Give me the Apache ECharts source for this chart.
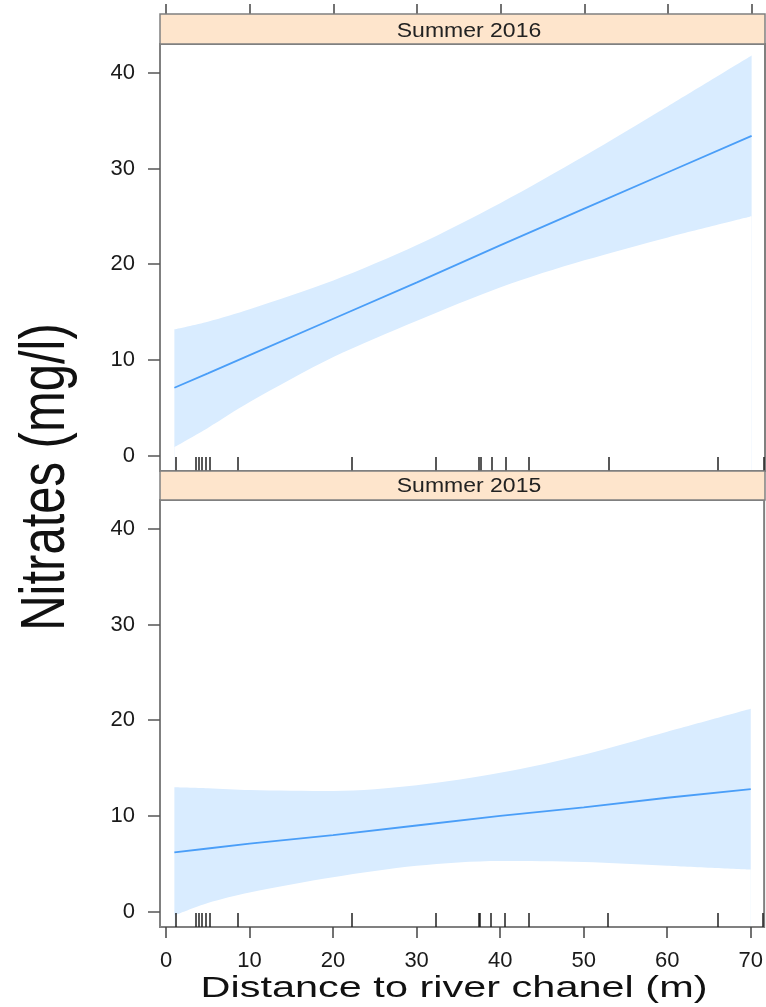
<!DOCTYPE html>
<html>
<head>
<meta charset="utf-8">
<title>Nitrates vs distance</title>
<script src="https://cdn.jsdelivr.net/npm/echarts@6.0.0/dist/echarts.min.js"></script>
<style>
  html, body { margin: 0; padding: 0; background: #fff; }
  #chart { width: 766px; height: 1007px; }
</style>
</head>
<body>
<div id="chart"></div>
<script>
// x positions where the effect was read
const xs = [1, 5, 10, 20, 30, 40, 50, 60, 70]
// Summer 2016 (top panel)
const fit2016 = [7.1, 8.6, 10.5, 14.3, 18.1, 22.0, 25.8, 29.6, 33.4]
const upper2016 = [13.2, 14.0, 15.3, 18.3, 22.0, 26.4, 31.3, 36.5, 41.8]
const lower2016 = [0.9, 2.9, 5.6, 10.3, 14.1, 17.6, 20.4, 22.8, 25.0]
// Summer 2015 (bottom panel)
const fit2015 = [6.2, 6.6, 7.1, 8.0, 9.0, 10.0, 10.9, 11.9, 12.8]
const upper2015 = [13.0, 12.9, 12.7, 12.6, 13.2, 14.5, 16.4, 18.8, 21.2]
const lower2015 = [-0.4, 0.9, 2.0, 3.6, 4.8, 5.3, 5.2, 4.8, 4.4]
// observed distances (rug)
const rugX = [1.2, 3.5, 3.9, 4.3, 4.7, 5.2, 8.6, 22.2, 32.3, 37.4, 37.6, 38.9, 40.6, 43.4, 52.9, 66.0, 71.4]
const xTicks = [0, 10, 20, 30, 40, 50, 60, 70]
const yTicks = [0, 10, 20, 30, 40]

const FONT = 'Liberation Sans, Arial, Helvetica, sans-serif'
const LINE = '#4a9ef8'
const BAND = '#d9ecff'
const BORDER = '#808080'
const X_MIN = -0.72
const X_MAX = 71.6
const PLOT_H = 427

function pairs(a) {
  return xs.map((x, i) => [x, a[i]])
}

// band = upper area filled blue, lower area filled white on top of it
function bandSeries(xIdx, yIdx, up, lo, fit) {
  return [
    {
      type: 'line', xAxisIndex: xIdx, yAxisIndex: yIdx, data: pairs(up), symbol: 'none', smooth: 0.3,
      lineStyle: { opacity: 0 }, areaStyle: { color: BAND, opacity: 1, origin: 'start' }, silent: true, z: 1
    },
    {
      type: 'line', xAxisIndex: xIdx, yAxisIndex: yIdx, data: pairs(lo), symbol: 'none', smooth: 0.3,
      lineStyle: { opacity: 0 }, areaStyle: { color: '#fff', opacity: 1, origin: 'start' }, silent: true, z: 2
    },
    {
      type: 'line', xAxisIndex: xIdx, yAxisIndex: yIdx, data: pairs(fit), symbol: 'none',
      lineStyle: { color: LINE, width: 1.8 }, z: 3
    }
  ]
}

function yAxis(grid) {
  return {
    type: 'value', gridIndex: grid, min: -1.6, max: 43, z: 10,
    axisLine: { show: false, onZero: false }, splitLine: { show: false },
    axisTick: { show: true, length: 12, customValues: yTicks, lineStyle: { color: '#555', width: 1.5 } },
    axisLabel: { customValues: yTicks, fontSize: 22, fontFamily: FONT, color: '#1a1a1a', margin: 25, padding: [0, 0, 7, 0], verticalAlign: 'middle', lineHeight: 22 }
  }
}

const chart = echarts.init(document.getElementById('chart'), null, { renderer: 'canvas' })
chart.setOption({
  animation: false,
  backgroundColor: '#fff',
  grid: [
    { left: 160, top: 44, width: 605, height: PLOT_H, show: true, borderColor: BORDER, borderWidth: 2, backgroundColor: 'transparent', z: 10 },
    { left: 160, top: 500, width: 605, height: PLOT_H, show: true, borderColor: BORDER, borderWidth: 2, backgroundColor: 'transparent', z: 10 }
  ],
  xAxis: [
    // 0: top panel, rug ticks pointing up from the bottom edge
    {
      type: 'value', gridIndex: 0, min: X_MIN, max: X_MAX, position: 'bottom', z: 10,
      axisLine: { show: false, onZero: false }, splitLine: { show: false }, axisLabel: { show: false },
      axisTick: { show: true, inside: true, length: 14, customValues: rugX, lineStyle: { color: '#222', width: 1.5 } }
    },
    // 1: top panel, ticks above the strip
    {
      type: 'value', gridIndex: 0, min: X_MIN, max: X_MAX, position: 'top', offset: 30, z: 10,
      axisLine: { show: false, onZero: false }, splitLine: { show: false }, axisLabel: { show: false },
      axisTick: { show: true, length: 10, customValues: xTicks, lineStyle: { color: '#444', width: 1.5 } }
    },
    // 2: bottom panel, labelled axis
    {
      type: 'value', gridIndex: 1, min: X_MIN, max: X_MAX, position: 'bottom', z: 10,
      axisLine: { show: false, onZero: false }, splitLine: { show: false },
      axisTick: { show: true, length: 11, customValues: xTicks, lineStyle: { color: '#444', width: 1.5 } },
      axisLabel: { customValues: xTicks, fontSize: 22, fontFamily: FONT, color: '#1a1a1a', margin: 23 }
    },
    // 3: bottom panel rug, a top axis moved down onto the bottom edge
    {
      type: 'value', gridIndex: 1, min: X_MIN, max: X_MAX, position: 'top', offset: -PLOT_H, z: 10,
      axisLine: { show: false, onZero: false }, splitLine: { show: false }, axisLabel: { show: false },
      axisTick: { show: true, inside: false, length: 14, customValues: rugX, lineStyle: { color: '#222', width: 1.5 } }
    }
  ],
  yAxis: [yAxis(0), yAxis(1)],
  series: [].concat(
    bandSeries(0, 0, upper2016, lower2016, fit2016),
    bandSeries(2, 1, upper2015, lower2015, fit2015)
  ),
  graphic: [
    // strips
    { type: 'rect', shape: { x: 160, y: 14, width: 605, height: 30 }, style: { fill: '#fee5cc', stroke: BORDER, lineWidth: 1.5 }, z: 20 },
    { type: 'rect', shape: { x: 160, y: 471, width: 605, height: 29 }, style: { fill: '#fee5cc', stroke: BORDER, lineWidth: 1.5 }, z: 20 },
    {
      type: 'text', x: 469, y: 31, scaleX: 1.15, z: 21,
      style: { text: 'Summer 2016', fontSize: 20, fontFamily: FONT, fill: '#222', align: 'center', verticalAlign: 'middle' }
    },
    {
      type: 'text', x: 469, y: 486, scaleX: 1.15, z: 21,
      style: { text: 'Summer 2015', fontSize: 20, fontFamily: FONT, fill: '#222', align: 'center', verticalAlign: 'middle' }
    },
    // axis titles
    {
      type: 'text', x: 454, y: 989, scaleX: 1.43, z: 21,
      style: { text: 'Distance to river chanel (m)', fontSize: 29, fontFamily: FONT, fill: '#111', align: 'center', verticalAlign: 'middle' }
    },
    {
      type: 'text', x: 47, y: 477, rotation: Math.PI / 2, scaleY: 1.27, z: 21,
      style: { text: 'Nitrates (mg/l)', fontSize: 49, fontFamily: FONT, fill: '#111', align: 'center', verticalAlign: 'middle' }
    }
  ]
})
</script>
</body>
</html>
